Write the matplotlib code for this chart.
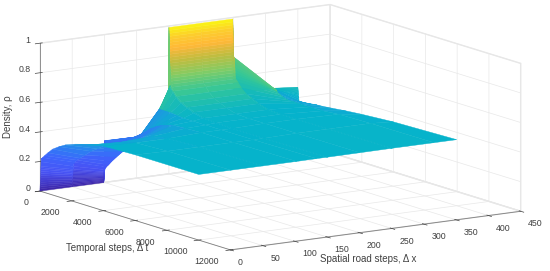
import numpy as np
import matplotlib
matplotlib.use("Agg")
import matplotlib.pyplot as plt
from matplotlib.colors import LinearSegmentedColormap

# road positions and time steps of the table below
road = [0, 50, 99, 100, 152, 183, 199, 200, 250, 299, 300, 365, 400]
steps = [0, 5, 10, 15, 20, 25, 30, 35, 40, 45, 50, 55, 60, 70, 80, 90, 100, 110, 120,
         130, 150, 300, 500, 800, 1200, 1600, 2200, 3000, 4000, 6000, 10000]

# density, one row per time step
rho = [
    [0.00, 0.00, 0.00, 0.283, 0.28, 0.28, 0.28, 0.99, 0.99, 0.99, 0.48, 0.484, 0.47],
    [0.015, 0.01, 0.006, 0.281, 0.28, 0.29, 0.30, 0.97, 0.97, 0.97, 0.49, 0.4835, 0.465],
    [0.03, 0.02, 0.012, 0.28, 0.28, 0.30, 0.32, 0.95, 0.95, 0.95, 0.50, 0.483, 0.46],
    [0.045, 0.03, 0.018, 0.278, 0.28, 0.31, 0.34, 0.93, 0.93, 0.93, 0.515, 0.4825, 0.455],
    [0.06, 0.04, 0.025, 0.275, 0.28, 0.32, 0.36, 0.91, 0.91, 0.91, 0.53, 0.482, 0.45],
    [0.075, 0.05, 0.03, 0.272, 0.28, 0.33, 0.38, 0.89, 0.89, 0.89, 0.545, 0.481, 0.445],
    [0.09, 0.06, 0.04, 0.27, 0.28, 0.34, 0.40, 0.87, 0.87, 0.87, 0.56, 0.48, 0.44],
    [0.105, 0.07, 0.045, 0.267, 0.28, 0.35, 0.42, 0.85, 0.85, 0.85, 0.58, 0.479, 0.435],
    [0.12, 0.08, 0.05, 0.265, 0.28, 0.36, 0.44, 0.83, 0.83, 0.83, 0.60, 0.478, 0.43],
    [0.135, 0.09, 0.055, 0.262, 0.28, 0.37, 0.455, 0.81, 0.81, 0.81, 0.62, 0.477, 0.42],
    [0.15, 0.10, 0.06, 0.26, 0.28, 0.38, 0.47, 0.79, 0.79, 0.79, 0.64, 0.476, 0.41],
    [0.16, 0.11, 0.068, 0.257, 0.28, 0.39, 0.485, 0.77, 0.77, 0.77, 0.67, 0.475, 0.405],
    [0.17, 0.12, 0.075, 0.255, 0.28, 0.40, 0.50, 0.75, 0.75, 0.75, 0.70, 0.474, 0.40],
    [0.20, 0.14, 0.09, 0.25, 0.28, 0.43, 0.55, 0.73, 0.73, 0.73, 0.73, 0.472, 0.385],
    [0.22, 0.16, 0.10, 0.25, 0.28, 0.45, 0.57, 0.71, 0.71, 0.71, 0.71, 0.47, 0.373],
    [0.221, 0.161, 0.101, 0.25, 0.28, 0.45, 0.58, 0.69, 0.69, 0.69, 0.69, 0.47, 0.373],
    [0.222, 0.162, 0.102, 0.25, 0.28, 0.45, 0.59, 0.67, 0.67, 0.67, 0.67, 0.469, 0.373],
    [0.223, 0.163, 0.103, 0.25, 0.28, 0.45, 0.60, 0.65, 0.65, 0.65, 0.65, 0.468, 0.374],
    [0.224, 0.164, 0.104, 0.25, 0.28, 0.45, 0.60, 0.63, 0.63, 0.63, 0.63, 0.466, 0.374],
    [0.225, 0.165, 0.105, 0.25, 0.28, 0.45, 0.60, 0.61, 0.61, 0.61, 0.61, 0.464, 0.374],
    [0.23, 0.17, 0.11, 0.25, 0.29, 0.45, 0.585, 0.59, 0.59, 0.59, 0.59, 0.46, 0.375],
    [0.25, 0.19, 0.13, 0.25, 0.31, 0.45, 0.565, 0.57, 0.57, 0.57, 0.57, 0.45, 0.378],
    [0.275, 0.21, 0.16, 0.25, 0.33, 0.45, 0.535, 0.54, 0.54, 0.54, 0.54, 0.44, 0.38],
    [0.31, 0.24, 0.20, 0.25, 0.36, 0.45, 0.505, 0.51, 0.51, 0.51, 0.51, 0.43, 0.385],
    [0.34, 0.28, 0.25, 0.25, 0.39, 0.445, 0.485, 0.49, 0.49, 0.49, 0.49, 0.43, 0.39],
    [0.365, 0.31, 0.30, 0.30, 0.41, 0.44, 0.465, 0.47, 0.47, 0.47, 0.47, 0.43, 0.393],
    [0.39, 0.36, 0.36, 0.36, 0.43, 0.44, 0.45, 0.45, 0.45, 0.45, 0.45, 0.43, 0.40],
    [0.41, 0.40, 0.41, 0.41, 0.435, 0.44, 0.445, 0.445, 0.445, 0.445, 0.445, 0.43, 0.41],
    [0.437, 0.43, 0.43, 0.43, 0.44, 0.44, 0.44, 0.44, 0.445, 0.445, 0.445, 0.44, 0.42],
    [0.444, 0.44, 0.44, 0.44, 0.44, 0.44, 0.44, 0.44, 0.445, 0.445, 0.445, 0.445, 0.435],
    [0.444, 0.444, 0.444, 0.444, 0.444, 0.445, 0.445, 0.445, 0.446, 0.447, 0.447, 0.447, 0.447],
]

x_ticks = [0, 50, 100, 150, 200, 250, 300, 350, 400, 450]
t_ticks = [0, 2000, 4000, 6000, 8000, 10000, 12000]
z_ticks = [0, 0.2, 0.4, 0.6, 0.8, 1]
z_labels = ["0", "0.2", "0.4", "0.6", "0.8", "1"]

parula = LinearSegmentedColormap.from_list("parula", [
    (0.00, (0.2422, 0.1504, 0.6603)),
    (0.11, (0.2810, 0.3228, 0.9579)),
    (0.22, (0.24, 0.40, 0.99)),
    (0.33, (0.15, 0.53, 0.93)),
    (0.39, (0.10, 0.62, 0.87)),
    (0.44, (0.02, 0.70, 0.80)),
    (0.55, (0.20, 0.78, 0.60)),
    (0.66, (0.50, 0.80, 0.40)),
    (0.76, (0.75, 0.74, 0.25)),
    (0.85, (1.00, 0.72, 0.22)),
    (0.92, (0.99, 0.80, 0.18)),
    (1.00, (0.976, 0.984, 0.055)),
])

plt.rcParams["font.family"] = ["Liberation Sans", "DejaVu Sans"]

fig = plt.figure(figsize=(5.5, 2.71), dpi=100)
ax = fig.add_axes([0.003, 0.017, 1, 1], projection="3d", proj_type="ortho")
ax.set_box_aspect((1, 1, 0.435), zoom=1.84)
ax.view_init(elev=11.7, azim=-123.3)

X, T = np.meshgrid(road, steps)
Z = np.array(rho)
surf = ax.plot_surface(X, T, Z, cmap=parula, vmin=0, vmax=1, rstride=1, cstride=1,
                       shade=False, linewidth=0.3, antialiased=True)
surf.set_edgecolor("face")
surf.set_clip_on(False)

ax.set_xlim(0, 450, view_margin=0)
ax.set_ylim(12000, 0, view_margin=0)
ax.set_zlim(0, 1, view_margin=0)
ax.set_xticks(x_ticks)
ax.set_yticks(t_ticks)
ax.set_zticks(z_ticks)
ax.set_zticklabels(z_labels)
ax.tick_params(labelsize=6.3, colors="#404040")
ax.tick_params(axis="x", pad=-4)
ax.tick_params(axis="y", pad=-4)
ax.tick_params(axis="z", pad=-6)
for lab in ax.get_xticklabels():
    lab.set_ha("left")
for lab in ax.get_yticklabels():
    lab.set_ha("right")
for lab in ax.get_zticklabels():
    lab.set_ha("right")
    lab.set_va("baseline")

# axis titles sit flat in the picture, placed by hand
fig.text(368 / 550, 1 - 259 / 271, "Spatial road steps, Δ x", fontsize=7, color="#404040",
         ha="center", va="center")
fig.text(107 / 550, 1 - 248 / 271, "Temporal steps, Δ t", fontsize=7, color="#404040",
         ha="center", va="center")
fig.text(8 / 550, 1 - 117 / 271, "Density, ρ", fontsize=7, color="#404040",
         rotation=90, ha="center", va="center")

for axis in [ax.xaxis, ax.yaxis, ax.zaxis]:
    axis.set_pane_color((1, 1, 1, 1))
    axis.pane.set_edgecolor("#e6e6e6")
    axis.line.set_color("#7f7f7f")
    axis.line.set_linewidth(0.6)
    axis._axinfo["grid"]["color"] = "#e8e8e8"
    axis._axinfo["grid"]["linewidth"] = 0.5
    axis._axinfo["tick"]["color"] = "#7f7f7f"
    axis._axinfo["tick"]["linewidth"] = {True: 0.5, False: 0.5}

fig.savefig("out.png", dpi=100)
